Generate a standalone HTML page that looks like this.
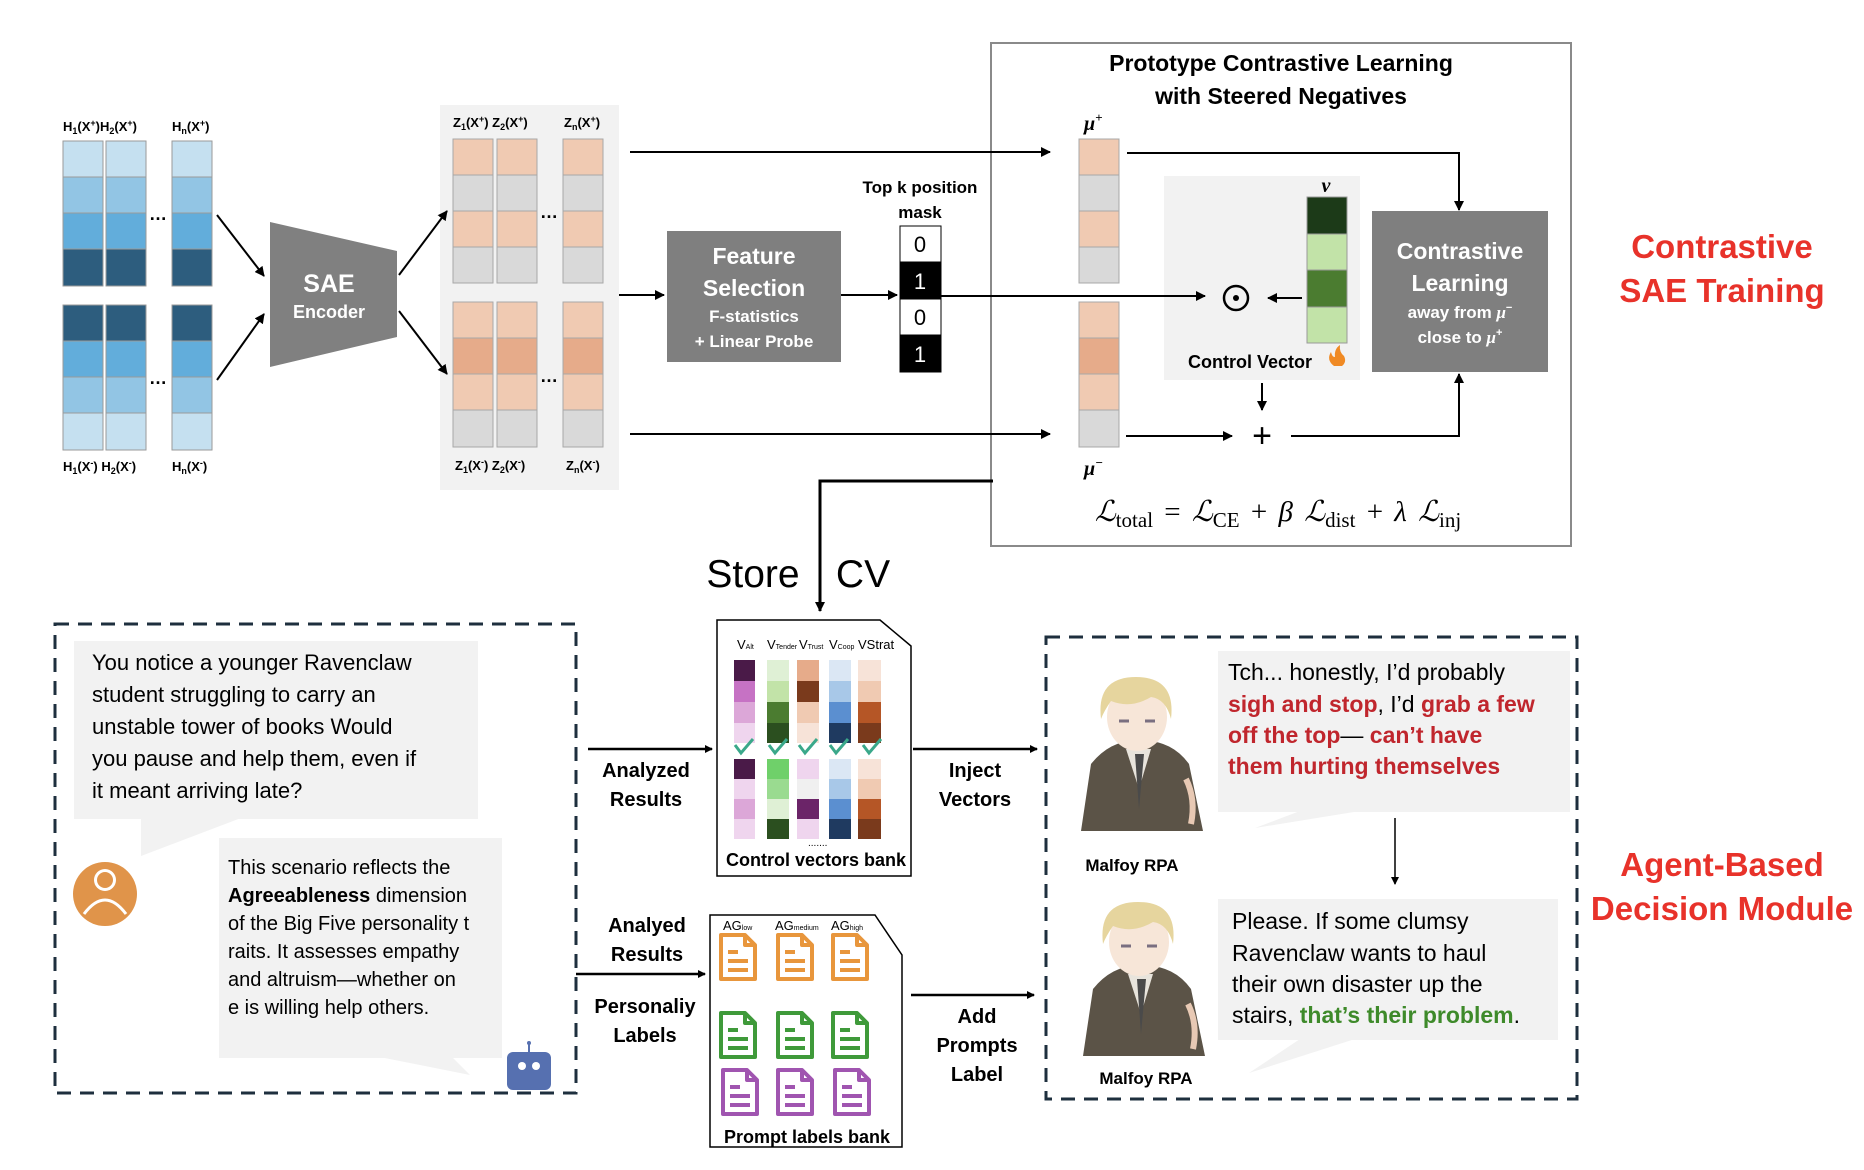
<!DOCTYPE html>
<html><head><meta charset="utf-8"><style>
html,body{margin:0;padding:0;background:#fff;}
svg{display:block;font-family:"Liberation Sans",sans-serif;}
.b{font-weight:bold;}
</style></head><body>
<svg width="1864" height="1170" viewBox="0 0 1864 1170" xmlns="http://www.w3.org/2000/svg">
<defs>
<marker id="ah" markerWidth="10" markerHeight="10" refX="9" refY="5" orient="auto" markerUnits="userSpaceOnUse"><path d="M0,0 L10,5 L0,10 z" fill="#000"/></marker>
<marker id="ahs" markerWidth="8" markerHeight="8" refX="7" refY="4" orient="auto" markerUnits="userSpaceOnUse"><path d="M0,0 L8,4 L0,8 z" fill="#000"/></marker>
<symbol id="doc" viewBox="0 0 40 50"><path d="M3,3 H27 L37,13 V47 H3 Z M27,3 V13 H37" fill="none" stroke="currentColor" stroke-width="4" stroke-linejoin="round"/><path d="M10,20 H20 M10,29 H30 M10,38 H30" stroke="currentColor" stroke-width="4"/></symbol>
<symbol id="malfoy" viewBox="0 0 136 162">
<path d="M10,162 L20,95 Q40,70 68,72 Q100,70 118,95 L132,162 Z" fill="#5b5347"/>
<path d="M55,80 L68,120 L80,80 Z" fill="#e8e4dc"/>
<path d="M64,85 L68,140 L73,85 Z" fill="#4a4a4a"/>
<ellipse cx="66" cy="48" rx="30" ry="34" fill="#f7e6d8"/>
<path d="M30,50 Q25,8 65,8 Q105,8 100,50 Q95,30 80,28 Q60,40 40,32 Q33,42 30,50 Z" fill="#e6d59e"/>
<path d="M48,52 h10 M74,52 h10" stroke="#7a6f80" stroke-width="3"/>
<path d="M115,110 q10,20 5,45" stroke="#e8c9b4" stroke-width="6" fill="none"/>
</symbol>
</defs>

<!-- panels first -->
<rect x="440" y="105" width="179" height="385" fill="#f2f2f2"/>
<rect x="1164" y="176" width="196" height="204" fill="#f2f2f2"/>

<!-- H columns -->
<g stroke="#9a9a9a" stroke-width="1">
<rect x="63" y="141" width="40" height="36" fill="#c5e0f0"/><rect x="63" y="177" width="40" height="36" fill="#92c5e4"/><rect x="63" y="213" width="40" height="36" fill="#62addb"/><rect x="63" y="249" width="40" height="37" fill="#2d5d7e"/>
<rect x="106" y="141" width="40" height="36" fill="#c5e0f0"/><rect x="106" y="177" width="40" height="36" fill="#92c5e4"/><rect x="106" y="213" width="40" height="36" fill="#62addb"/><rect x="106" y="249" width="40" height="37" fill="#2d5d7e"/>
<rect x="172" y="141" width="40" height="36" fill="#c5e0f0"/><rect x="172" y="177" width="40" height="36" fill="#92c5e4"/><rect x="172" y="213" width="40" height="36" fill="#62addb"/><rect x="172" y="249" width="40" height="37" fill="#2d5d7e"/>
<rect x="63" y="305" width="40" height="36" fill="#2d5d7e"/><rect x="63" y="341" width="40" height="36" fill="#62addb"/><rect x="63" y="377" width="40" height="36" fill="#92c5e4"/><rect x="63" y="413" width="40" height="37" fill="#c5e0f0"/>
<rect x="106" y="305" width="40" height="36" fill="#2d5d7e"/><rect x="106" y="341" width="40" height="36" fill="#62addb"/><rect x="106" y="377" width="40" height="36" fill="#92c5e4"/><rect x="106" y="413" width="40" height="37" fill="#c5e0f0"/>
<rect x="172" y="305" width="40" height="36" fill="#2d5d7e"/><rect x="172" y="341" width="40" height="36" fill="#62addb"/><rect x="172" y="377" width="40" height="36" fill="#92c5e4"/><rect x="172" y="413" width="40" height="37" fill="#c5e0f0"/>
</g>
<g class="b" font-size="13">
<text x="63" y="131">H<tspan font-size="9" dy="3">1</tspan><tspan dy="-3">(X</tspan><tspan font-size="9" dy="-5">+</tspan><tspan dy="5">)H</tspan><tspan font-size="9" dy="3">2</tspan><tspan dy="-3">(X</tspan><tspan font-size="9" dy="-5">+</tspan><tspan dy="5">)</tspan></text>
<text x="172" y="131">H<tspan font-size="9" dy="3">n</tspan><tspan dy="-3">(X</tspan><tspan font-size="9" dy="-5">+</tspan><tspan dy="5">)</tspan></text>
<text x="63" y="471">H<tspan font-size="9" dy="3">1</tspan><tspan dy="-3">(X</tspan><tspan font-size="9" dy="-5">-</tspan><tspan dy="5">) H</tspan><tspan font-size="9" dy="3">2</tspan><tspan dy="-3">(X</tspan><tspan font-size="9" dy="-5">-</tspan><tspan dy="5">)</tspan></text>
<text x="172" y="471">H<tspan font-size="9" dy="3">n</tspan><tspan dy="-3">(X</tspan><tspan font-size="9" dy="-5">-</tspan><tspan dy="5">)</tspan></text>
</g>
<text x="149" y="220" font-size="18" class="b">…</text>
<text x="149" y="384" font-size="18" class="b">…</text>

<polygon points="270,222 397,251 397,337 270,367" fill="#808080"/>
<text x="329" y="292" text-anchor="middle" fill="#fff" font-size="25" class="b">SAE</text>
<text x="329" y="318" text-anchor="middle" fill="#fff" font-size="18" class="b">Encoder</text>

<!-- Z columns -->
<g stroke="#a8a8a8" stroke-width="1">
<rect x="453" y="139" width="40" height="36" fill="#f0cab2"/><rect x="453" y="175" width="40" height="36" fill="#d9d9d9"/><rect x="453" y="211" width="40" height="36" fill="#f0cab2"/><rect x="453" y="247" width="40" height="36" fill="#d9d9d9"/>
<rect x="497" y="139" width="40" height="36" fill="#f0cab2"/><rect x="497" y="175" width="40" height="36" fill="#d9d9d9"/><rect x="497" y="211" width="40" height="36" fill="#f0cab2"/><rect x="497" y="247" width="40" height="36" fill="#d9d9d9"/>
<rect x="563" y="139" width="40" height="36" fill="#f0cab2"/><rect x="563" y="175" width="40" height="36" fill="#d9d9d9"/><rect x="563" y="211" width="40" height="36" fill="#f0cab2"/><rect x="563" y="247" width="40" height="36" fill="#d9d9d9"/>
<rect x="453" y="302" width="40" height="36" fill="#f0cab2"/><rect x="453" y="338" width="40" height="36" fill="#e6ab8a"/><rect x="453" y="374" width="40" height="36" fill="#f0cab2"/><rect x="453" y="410" width="40" height="37" fill="#d9d9d9"/>
<rect x="497" y="302" width="40" height="36" fill="#f0cab2"/><rect x="497" y="338" width="40" height="36" fill="#e6ab8a"/><rect x="497" y="374" width="40" height="36" fill="#f0cab2"/><rect x="497" y="410" width="40" height="37" fill="#d9d9d9"/>
<rect x="563" y="302" width="40" height="36" fill="#f0cab2"/><rect x="563" y="338" width="40" height="36" fill="#e6ab8a"/><rect x="563" y="374" width="40" height="36" fill="#f0cab2"/><rect x="563" y="410" width="40" height="37" fill="#d9d9d9"/>
</g>
<g class="b" font-size="13">
<text x="453" y="127">Z<tspan font-size="9" dy="3">1</tspan><tspan dy="-3">(X</tspan><tspan font-size="9" dy="-5">+</tspan><tspan dy="5">) Z</tspan><tspan font-size="9" dy="3">2</tspan><tspan dy="-3">(X</tspan><tspan font-size="9" dy="-5">+</tspan><tspan dy="5">)</tspan></text>
<text x="564" y="127">Z<tspan font-size="9" dy="3">n</tspan><tspan dy="-3">(X</tspan><tspan font-size="9" dy="-5">+</tspan><tspan dy="5">)</tspan></text>
<text x="455" y="470">Z<tspan font-size="9" dy="3">1</tspan><tspan dy="-3">(X</tspan><tspan font-size="9" dy="-5">-</tspan><tspan dy="5">) Z</tspan><tspan font-size="9" dy="3">2</tspan><tspan dy="-3">(X</tspan><tspan font-size="9" dy="-5">-</tspan><tspan dy="5">)</tspan></text>
<text x="566" y="470">Z<tspan font-size="9" dy="3">n</tspan><tspan dy="-3">(X</tspan><tspan font-size="9" dy="-5">-</tspan><tspan dy="5">)</tspan></text>
</g>
<text x="540" y="218" font-size="18" class="b">…</text>
<text x="540" y="382" font-size="18" class="b">…</text>

<rect x="667" y="231" width="174" height="131" fill="#7f7f7f"/>
<g fill="#fff" class="b" text-anchor="middle">
<text x="754" y="264" font-size="23">Feature</text>
<text x="754" y="296" font-size="23">Selection</text>
<text x="754" y="322" font-size="17">F-statistics</text>
<text x="754" y="347" font-size="17">+ Linear Probe</text>
</g>
<text x="920" y="193" font-size="17" class="b" text-anchor="middle">Top k  position</text>
<text x="920" y="218" font-size="17" class="b" text-anchor="middle">mask</text>
<g stroke="#000" stroke-width="1">
<rect x="900" y="226" width="41" height="36" fill="#fff"/><rect x="900" y="262" width="41" height="37" fill="#000"/><rect x="900" y="299" width="41" height="36" fill="#fff"/><rect x="900" y="335" width="41" height="37" fill="#000"/>
</g>
<g font-size="22" text-anchor="middle"><text x="920" y="252">0</text><text x="920" y="289" fill="#fff">1</text><text x="920" y="325" >0</text><text x="920" y="362" fill="#fff">1</text></g>

<!-- Big box -->
<rect x="991" y="43" width="580" height="503" fill="none" stroke="#8a8a8a" stroke-width="2"/>
<text x="1281" y="71" font-size="23" class="b" text-anchor="middle">Prototype Contrastive Learning</text>
<text x="1281" y="104" font-size="23" class="b" text-anchor="middle">with Steered Negatives</text>
<text x="1084" y="130" font-size="20" font-family="Liberation Serif" font-style="italic" class="b">μ<tspan font-size="13" dy="-8">+</tspan></text>
<text x="1084" y="475" font-size="20" font-family="Liberation Serif" font-style="italic" class="b">μ<tspan font-size="13" dy="-8">−</tspan></text>
<g stroke="#a8a8a8" stroke-width="1">
<rect x="1079" y="139" width="40" height="36" fill="#f0cab2"/><rect x="1079" y="175" width="40" height="36" fill="#d9d9d9"/><rect x="1079" y="211" width="40" height="36" fill="#f0cab2"/><rect x="1079" y="247" width="40" height="36" fill="#d9d9d9"/>
<rect x="1079" y="302" width="40" height="36" fill="#f0cab2"/><rect x="1079" y="338" width="40" height="36" fill="#e6ab8a"/><rect x="1079" y="374" width="40" height="36" fill="#f0cab2"/><rect x="1079" y="410" width="40" height="37" fill="#d9d9d9"/>
</g>
<text x="1326" y="192" font-size="20" font-family="Liberation Serif" font-style="italic" class="b" text-anchor="middle">v</text>
<g stroke="#999" stroke-width="1">
<rect x="1307" y="197" width="40" height="37" fill="#1c3a18"/><rect x="1307" y="234" width="40" height="36" fill="#c2e3a8"/><rect x="1307" y="270" width="40" height="37" fill="#4b7c30"/><rect x="1307" y="307" width="40" height="36" fill="#c2e3a8"/>
</g>
<circle cx="1236" cy="298" r="12" fill="none" stroke="#000" stroke-width="2.5"/><circle cx="1236" cy="298" r="3" fill="#000"/>
<text x="1250" y="368" font-size="18" class="b" text-anchor="middle">Control Vector</text>
<path d="M1334,366 q-8,-6 -3,-14 q1,5 4,5 q-1,-8 5,-12 q-1,7 4,11 q3,6 -2,10 z" fill="#f08a24"/>
<text x="1262" y="447" font-size="34" text-anchor="middle">+</text>
<rect x="1372" y="211" width="176" height="161" fill="#7f7f7f"/>
<g fill="#fff" class="b" text-anchor="middle">
<text x="1460" y="259" font-size="23">Contrastive</text>
<text x="1460" y="291" font-size="23">Learning</text>
<text x="1460" y="318" font-size="17">away from <tspan font-family="Liberation Serif" font-style="italic">μ</tspan><tspan font-size="11" dy="-7">−</tspan></text>
<text x="1460" y="343" font-size="17">close to <tspan font-family="Liberation Serif" font-style="italic">μ</tspan><tspan font-size="11" dy="-7">+</tspan></text>
</g>
<text x="1278" y="521" font-size="29" font-family="Liberation Serif" text-anchor="middle" word-spacing="4"><tspan font-style="italic">ℒ</tspan><tspan font-size="21" dy="6">total</tspan><tspan dy="-6"> = </tspan><tspan font-style="italic">ℒ</tspan><tspan font-size="21" dy="6">CE</tspan><tspan dy="-6"> + </tspan><tspan font-style="italic">β ℒ</tspan><tspan font-size="21" dy="6">dist</tspan><tspan dy="-6"> + </tspan><tspan font-style="italic">λ ℒ</tspan><tspan font-size="21" dy="6">inj</tspan></text>

<!-- connectors top -->
<g stroke="#000" stroke-width="2" fill="none">
<line x1="217" y1="215" x2="264" y2="276" marker-end="url(#ah)"/>
<line x1="217" y1="380" x2="264" y2="314" marker-end="url(#ah)"/>
<line x1="399" y1="275" x2="447" y2="211" marker-end="url(#ah)"/>
<line x1="399" y1="311" x2="447" y2="374" marker-end="url(#ah)"/>
<line x1="630" y1="152" x2="1050" y2="152" marker-end="url(#ah)"/>
<line x1="630" y1="434" x2="1050" y2="434" marker-end="url(#ah)"/>
<line x1="619" y1="295" x2="664" y2="295" marker-end="url(#ah)"/>
<line x1="841" y1="295" x2="897" y2="295" marker-end="url(#ah)"/>
<line x1="941" y1="296" x2="1205" y2="296" marker-end="url(#ah)"/>
<line x1="1302" y1="298" x2="1268" y2="298" marker-end="url(#ah)"/>
<line x1="1262" y1="383" x2="1262" y2="410" marker-end="url(#ah)"/>
<line x1="1126" y1="436" x2="1232" y2="436" marker-end="url(#ah)"/>
<polyline points="1291,436 1459,436 1459,374" marker-end="url(#ah)"/>
<polyline points="1127,153 1459,153 1459,210" marker-end="url(#ah)"/>
</g>
<g fill="#e8322a" class="b" font-size="33" text-anchor="middle">
<text x="1722" y="258">Contrastive</text>
<text x="1722" y="302">SAE Training</text>
<text x="1722" y="876">Agent-Based</text>
<text x="1722" y="920">Decision Module</text>
</g>

<!-- Store CV -->
<polyline points="993,481 820,481 820,611" fill="none" stroke="#000" stroke-width="3" marker-end="url(#ah)"/>
<text x="753" y="587" font-size="39" text-anchor="middle">Store</text>
<text x="863" y="587" font-size="39" text-anchor="middle">CV</text>

<!-- Left dashed box -->
<rect x="55" y="624" width="521" height="469" fill="none" stroke="#1e2f3e" stroke-width="3" stroke-dasharray="14,9"/>
<rect x="74" y="641" width="404" height="178" fill="#f2f2f2"/>
<polygon points="141,818 241,818 141,856" fill="#f2f2f2"/>
<g font-size="22">
<text x="92" y="670">You notice a younger Ravenclaw</text>
<text x="92" y="702">student struggling to carry an</text>
<text x="92" y="734">unstable tower of books Would</text>
<text x="92" y="766">you pause and help them, even if</text>
<text x="92" y="798">it meant arriving late?</text>
</g>
<circle cx="105" cy="894" r="32" fill="#e0944a"/>
<circle cx="105" cy="880" r="11" fill="#fff"/><circle cx="105" cy="880" r="8" fill="#e0944a"/>
<path d="M84,914 q21,-28 42,0" fill="none" stroke="#fff" stroke-width="3"/>
<rect x="219" y="838" width="283" height="220" fill="#f2f2f2"/>
<polygon points="380,1057 452,1057 470,1075" fill="#f2f2f2"/>
<g font-size="20">
<text x="228" y="874">This scenario reflects the</text>
<text x="228" y="902"><tspan class="b">Agreeableness</tspan> dimension</text>
<text x="228" y="930">of the Big Five personality t</text>
<text x="228" y="958">raits. It assesses empathy</text>
<text x="228" y="986">and altruism—whether on</text>
<text x="228" y="1014">e is willing help others.</text>
</g>
<rect x="507" y="1052" width="44" height="38" rx="6" fill="#5670b0"/>
<line x1="529" y1="1052" x2="529" y2="1043" stroke="#5670b0" stroke-width="2"/><circle cx="529" cy="1043" r="2" fill="#5670b0"/>
<circle cx="522" cy="1066" r="4" fill="#fff"/><circle cx="536" cy="1066" r="4" fill="#fff"/>

<!-- middle arrows / labels -->
<g stroke="#000" stroke-width="2.5" fill="none">
<line x1="588" y1="749" x2="712" y2="749" marker-end="url(#ahs)"/>
<line x1="913" y1="749" x2="1037" y2="749" marker-end="url(#ahs)"/>
<line x1="576" y1="974" x2="705" y2="974" marker-end="url(#ahs)"/>
<line x1="911" y1="995" x2="1034" y2="995" marker-end="url(#ahs)"/>
</g>
<g class="b" font-size="20" text-anchor="middle">
<text x="646" y="777">Analyzed</text><text x="646" y="806">Results</text>
<text x="975" y="777">Inject</text><text x="975" y="806">Vectors</text>
<text x="647" y="932">Analyed</text><text x="647" y="961">Results</text>
<text x="645" y="1013">Personaliy</text><text x="645" y="1042">Labels</text>
<text x="977" y="1023">Add</text><text x="977" y="1052">Prompts</text><text x="977" y="1081">Label</text>
</g>

<!-- Control vectors bank -->
<path d="M717,620 H880 L911,646 V876 H717 Z" fill="#fff" stroke="#000" stroke-width="1.5"/>
<g font-size="13"><text x="737" y="649">V<tspan font-size="7">Alt</tspan></text><text x="767" y="649">V<tspan font-size="7">Tender</tspan></text><text x="799" y="649">V<tspan font-size="7">Trust</tspan></text><text x="829" y="649">V<tspan font-size="7">Coop</tspan></text><text x="858" y="649">VStrat</text></g>
<g>
<rect x="734" y="660" width="21" height="21" fill="#4a1a48"/><rect x="734" y="681" width="21" height="21" fill="#c672c4"/><rect x="734" y="702" width="21" height="21" fill="#dca7d8"/><rect x="734" y="723" width="21" height="20" fill="#efd5ee"/>
<rect x="767" y="660" width="22" height="21" fill="#dff0d5"/><rect x="767" y="681" width="22" height="21" fill="#c2e3a8"/><rect x="767" y="702" width="22" height="21" fill="#4b7c30"/><rect x="767" y="723" width="22" height="20" fill="#2b4f1f"/>
<rect x="797" y="660" width="22" height="21" fill="#e6ab8a"/><rect x="797" y="681" width="22" height="21" fill="#7a3a1c"/><rect x="797" y="702" width="22" height="21" fill="#f0cab2"/><rect x="797" y="723" width="22" height="20" fill="#f7e3d8"/>
<rect x="829" y="660" width="22" height="21" fill="#dbe7f4"/><rect x="829" y="681" width="22" height="21" fill="#a8c8e8"/><rect x="829" y="702" width="22" height="21" fill="#5b8fd0"/><rect x="829" y="723" width="22" height="20" fill="#1f3a60"/>
<rect x="858" y="660" width="23" height="21" fill="#f7e3d8"/><rect x="858" y="681" width="23" height="21" fill="#f0cab2"/><rect x="858" y="702" width="23" height="21" fill="#b55626"/><rect x="858" y="723" width="23" height="20" fill="#7a3a1c"/>
<rect x="734" y="759" width="21" height="20" fill="#4a1a48"/><rect x="734" y="779" width="21" height="20" fill="#efd5ee"/><rect x="734" y="799" width="21" height="20" fill="#dca7d8"/><rect x="734" y="819" width="21" height="20" fill="#efd5ee"/>
<rect x="767" y="759" width="22" height="20" fill="#6fd06a"/><rect x="767" y="779" width="22" height="20" fill="#9adb90"/><rect x="767" y="799" width="22" height="20" fill="#dff0d5"/><rect x="767" y="819" width="22" height="20" fill="#2b4f1f"/>
<rect x="797" y="759" width="22" height="20" fill="#efd5ee"/><rect x="797" y="779" width="22" height="20" fill="#f0f0f0"/><rect x="797" y="799" width="22" height="20" fill="#6b2468"/><rect x="797" y="819" width="22" height="20" fill="#efd5ee"/>
<rect x="829" y="759" width="22" height="20" fill="#dbe7f4"/><rect x="829" y="779" width="22" height="20" fill="#a8c8e8"/><rect x="829" y="799" width="22" height="20" fill="#5b8fd0"/><rect x="829" y="819" width="22" height="20" fill="#1f3a60"/>
<rect x="858" y="759" width="23" height="20" fill="#f7e3d8"/><rect x="858" y="779" width="23" height="20" fill="#f0cab2"/><rect x="858" y="799" width="23" height="20" fill="#b55626"/><rect x="858" y="819" width="23" height="20" fill="#7a3a1c"/>
</g>
<g stroke="#3aa88a" stroke-width="3" fill="none">
<path d="M735,745 l6,8 l12,-14"/><path d="M769,745 l6,8 l12,-14"/><path d="M799,745 l6,8 l12,-14"/><path d="M830,745 l6,8 l12,-14"/><path d="M863,745 l6,8 l12,-14"/>
<path d="M731,983 l7,8 l12,-14"/>
</g>
<text x="808" y="846" font-size="10">.......</text>
<text x="816" y="866" font-size="18" class="b" text-anchor="middle">Control vectors bank</text>

<!-- Prompt labels bank -->
<path d="M710,915 H875 L902,955 V1147 H710 Z" fill="#fff" stroke="#000" stroke-width="1.5"/>
<g font-size="13"><text x="723" y="930">AG<tspan font-size="7">low</tspan></text><text x="775" y="930">AG<tspan font-size="7">medium</tspan></text><text x="831" y="930">AG<tspan font-size="7">high</tspan></text></g>
<g color="#e8963c"><use href="#doc" x="718" y="932" width="40" height="50"/><use href="#doc" x="775" y="932" width="40" height="50"/><use href="#doc" x="830" y="932" width="40" height="50"/></g>
<g color="#3f9a3a"><use href="#doc" x="718" y="1010" width="40" height="50"/><use href="#doc" x="775" y="1010" width="40" height="50"/><use href="#doc" x="830" y="1010" width="40" height="50"/></g>
<g color="#a055b0"><use href="#doc" x="720" y="1067" width="40" height="50"/><use href="#doc" x="775" y="1067" width="40" height="50"/><use href="#doc" x="832" y="1067" width="40" height="50"/></g>
<text x="807" y="1143" font-size="18" class="b" text-anchor="middle">Prompt labels bank</text>

<!-- Right dashed box -->
<rect x="1046" y="637" width="531" height="462" fill="none" stroke="#1e2f3e" stroke-width="3" stroke-dasharray="14,9"/>
<use href="#malfoy" x="1071" y="669" width="136" height="162"/>
<use href="#malfoy" x="1073" y="894" width="136" height="162"/>
<text x="1132" y="871" font-size="17" class="b" text-anchor="middle">Malfoy RPA</text>
<text x="1146" y="1084" font-size="17" class="b" text-anchor="middle">Malfoy RPA</text>
<rect x="1218" y="651" width="352" height="161" fill="#f2f2f2"/>
<polygon points="1255,828 1300,811 1360,811" fill="#f2f2f2"/>
<g font-size="23">
<text x="1228" y="680">Tch... honestly, I’d probably</text>
<text x="1228" y="712" fill="#c0262d" class="b">sigh and stop<tspan fill="#000" font-weight="normal">, I’d </tspan>grab a few</text>
<text x="1228" y="743" fill="#c0262d" class="b">off the top<tspan fill="#000" font-weight="normal">— </tspan>can’t have</text>
<text x="1228" y="774" fill="#c0262d" class="b">them hurting themselves</text>
</g>
<line x1="1395" y1="818" x2="1395" y2="884" stroke="#000" stroke-width="1.5" marker-end="url(#ahs)"/>
<rect x="1218" y="899" width="340" height="141" fill="#f2f2f2"/>
<polygon points="1249,1073 1300,1039 1355,1039" fill="#f2f2f2"/>
<g font-size="23">
<text x="1232" y="929">Please. If some clumsy</text>
<text x="1232" y="961">Ravenclaw wants to haul</text>
<text x="1232" y="992">their own disaster up the</text>
<text x="1232" y="1023">stairs, <tspan fill="#3e8a2a" class="b">that’s their problem</tspan>.</text>
</g>
</svg>
</body></html>
